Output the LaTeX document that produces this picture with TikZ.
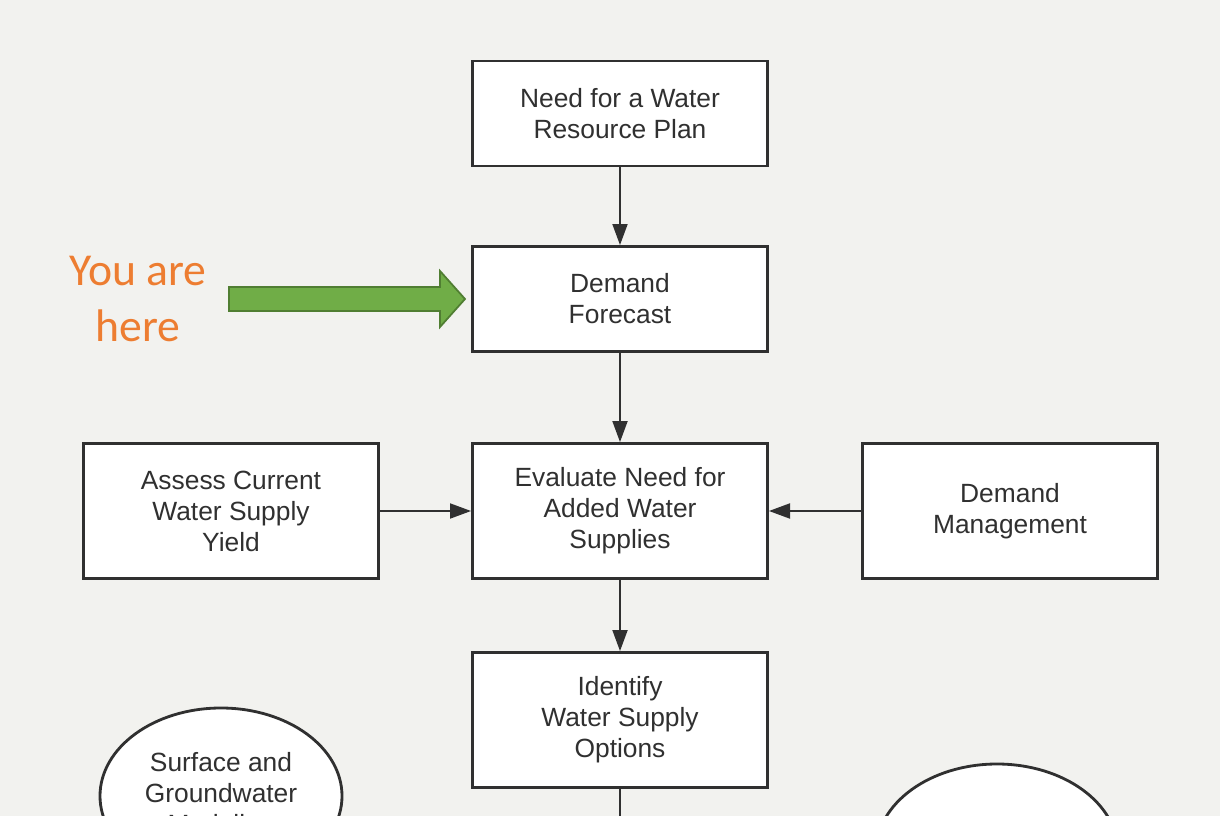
\documentclass[tikz,border=0pt]{standalone}
\usepackage{fontspec}
\setmainfont{Liberation Sans}
\newfontfamily\calibri{Carlito}
\usepackage{tikz}
\usetikzlibrary{positioning,shapes,arrows.meta}
\definecolor{paper}{HTML}{F2F2EF}
\definecolor{ink}{HTML}{303030}
\definecolor{herefill}{HTML}{70AD47}
\definecolor{hereline}{HTML}{507E32}
\definecolor{hereorange}{HTML}{ED7D31}
\tikzstyle{blk}=[draw=ink, fill=white, line width=1.6pt, minimum height = 2.1cm, minimum width=5.9cm, align=center, text=ink, font=\fontsize{15}{17.6}\selectfont]
\tikzstyle{blk2}=[blk, minimum height = 2.7cm]
\tikzstyle{ell}=[draw=ink, fill=white, ellipse, line width=1.6pt, minimum height = 3.52cm, minimum width=4.84cm, align=center, text=ink, font=\fontsize{15}{17.6}\selectfont]

\begin{document}
\begin{tikzpicture}[node distance=2cm,auto,>={Triangle[length=12pt,width=8.5pt]}]
\useasboundingbox (0,0) rectangle (24.4,-16.32);
\fill[paper] (0,0) rectangle (24.4,-16.32);
\clip (0,0) rectangle (24.4,-16.32);

  \node[blk] at (12.4,-2.27) (need) {Need for a Water\\Resource Plan};
  \node[blk, below of = need, node distance = 3.71cm] (fcst) {Demand\\Forecast};
\draw[->,draw=ink,line width = 1.2pt] (need) -- (fcst);

  \node[blk2, below of = fcst, node distance = 4.24cm] (eval) {Evaluate Need for\\Added Water\\Supplies};
\draw[->,draw=ink,line width = 1.2pt] (fcst) -- (eval);

  \node[blk2, left of = eval, node distance = 7.78cm] (yield) {Assess Current\\Water Supply\\Yield};
\draw[->,draw=ink,line width = 1.2pt] (yield) -- (eval);

  \node[blk2, right of = eval, node distance = 7.8cm] (dmgmt) {Demand\\Management};
\draw[->,draw=ink,line width = 1.2pt] (dmgmt) -- (eval);

  \node[blk2, below of = eval, node distance = 4.18cm] (opts) {Identify\\Water Supply\\Options};
\draw[->,draw=ink,line width = 1.2pt] (eval) -- (opts);

\coordinate[below of = opts, node distance = 2.6cm] (optsend);
\draw[draw=ink,line width = 1.2pt] (opts) -- (optsend);

  \node[ell] at (4.42,-15.92) (model) {Surface and\\Groundwater\\Modeling};
  \node[ell] at (19.94,-17.04) (other) {};

% you are here
\node[text=hereorange, align=center, font=\calibri\fontsize{26}{32}\selectfont] at (2.76,-5.98) (here) {You are\\here};
\filldraw[fill=herefill, draw=hereline, line width=1pt] (4.58,-5.74) -- (8.8,-5.74) -- (8.8,-5.42) -- (9.3,-5.98) -- (8.8,-6.54) -- (8.8,-6.22) -- (4.58,-6.22) -- cycle;
\end{tikzpicture}
\end{document}
